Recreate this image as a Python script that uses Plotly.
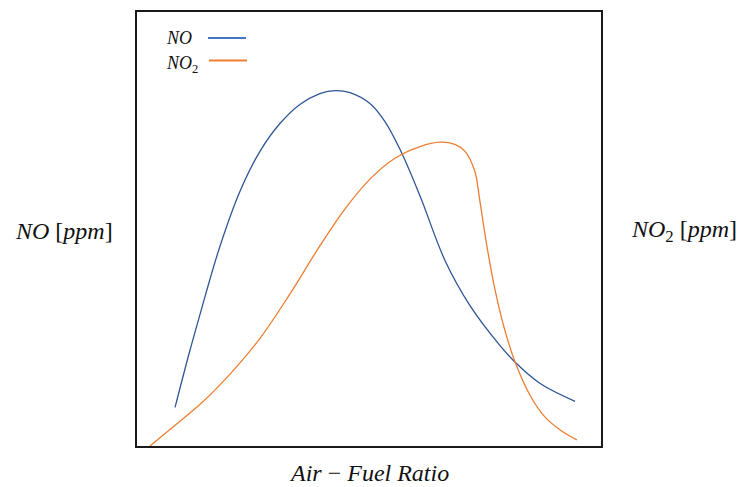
import plotly.graph_objects as go

# NO concentration versus air-fuel ratio (arbitrary units)
no_x = [8.2, 11.4, 14.7, 17.9, 22.2, 26.5, 30.8, 35.1, 39.4, 42.7, 45.9, 50.2,
        53.4, 56.7, 61.0, 66.4, 71.8, 78.2, 81.5, 86.9, 94.4]
no_y = [8.9, 22.0, 34.6, 46.1, 58.7, 67.9, 74.3, 78.7, 81.2, 81.9, 81.4, 78.9,
        74.8, 68.3, 57.6, 42.7, 32.3, 23.2, 19.3, 14.4, 10.3]

# NO2 concentration versus air-fuel ratio (arbitrary units)
no2_x = [2.8, 8.2, 13.6, 20.0, 26.5, 33.0, 39.4, 44.8, 50.2, 55.6, 61.0, 65.3,
         68.5, 70.7, 72.8, 73.9, 75.4, 77.2, 79.3, 81.5, 84.7, 87.9, 91.2, 94.8]
no2_y = [0.0, 4.8, 9.6, 16.5, 24.8, 35.1, 46.1, 54.6, 61.5, 66.3, 69.0, 70.0,
         69.5, 67.9, 63.3, 56.4, 46.1, 35.8, 26.6, 19.3, 11.7, 6.7, 3.7, 1.4]

NO_COLOR = "#2F5597"
NO2_COLOR = "#ED7D31"
SERIF = "Liberation Serif"

fig = go.Figure()
fig.add_trace(go.Scatter(x=no_x, y=no_y, mode="lines", name="NO",
                         line=dict(color=NO_COLOR, width=1.3, shape="spline", smoothing=1.0)))
fig.add_trace(go.Scatter(x=no2_x, y=no2_y, mode="lines", name="NO2",
                         line=dict(color=NO2_COLOR, width=1.3, shape="spline", smoothing=1.0)))

axis_common = dict(showgrid=False, zeroline=False, showticklabels=False, ticks="",
                   showline=True, linecolor="#1a1a1a", linewidth=2, mirror=True)
fig.update_xaxes(range=[0, 100], **axis_common)
fig.update_yaxes(range=[0, 100], **axis_common)

annotations = [
    dict(text="<i>NO</i> [<i>ppm</i>]", x=-0.157, y=0.495),
    dict(text="<i>NO</i><sub>2</sub> [<i>ppm</i>]", x=1.178, y=0.495),
    dict(text="<i>Air</i> − <i>Fuel Ratio</i>", x=0.5, y=-0.062),
]
anns = [dict(a, xref="paper", yref="paper", showarrow=False,
             font=dict(family=SERIF, size=24, color="#111"),
             xanchor="center", yanchor="middle", borderpad=0) for a in annotations]

# hand-placed legend: label followed by a line sample
anns.append(dict(text="<i>NO</i>", x=0.091, y=0.940, xref="paper", yref="paper",
                 showarrow=False, font=dict(family=SERIF, size=18, color="#111"),
                 xanchor="center", yanchor="middle"))
anns.append(dict(text="<i>NO</i><sub>2</sub>", x=0.097, y=0.880, xref="paper", yref="paper",
                 showarrow=False, font=dict(family=SERIF, size=18, color="#111"),
                 xanchor="center", yanchor="middle"))
shapes = [
    dict(type="line", xref="paper", yref="paper", x0=0.153, x1=0.235, y0=0.940, y1=0.940,
         line=dict(color="#4472C4", width=2)),
    dict(type="line", xref="paper", yref="paper", x0=0.155, x1=0.237, y0=0.888, y1=0.888,
         line=dict(color=NO2_COLOR, width=2)),
]

fig.update_layout(
    width=741, height=487,
    margin=dict(l=137, r=140, t=10, b=41),
    paper_bgcolor="white", plot_bgcolor="white",
    showlegend=False,
    annotations=anns, shapes=shapes,
)

fig.write_html("out.html")
